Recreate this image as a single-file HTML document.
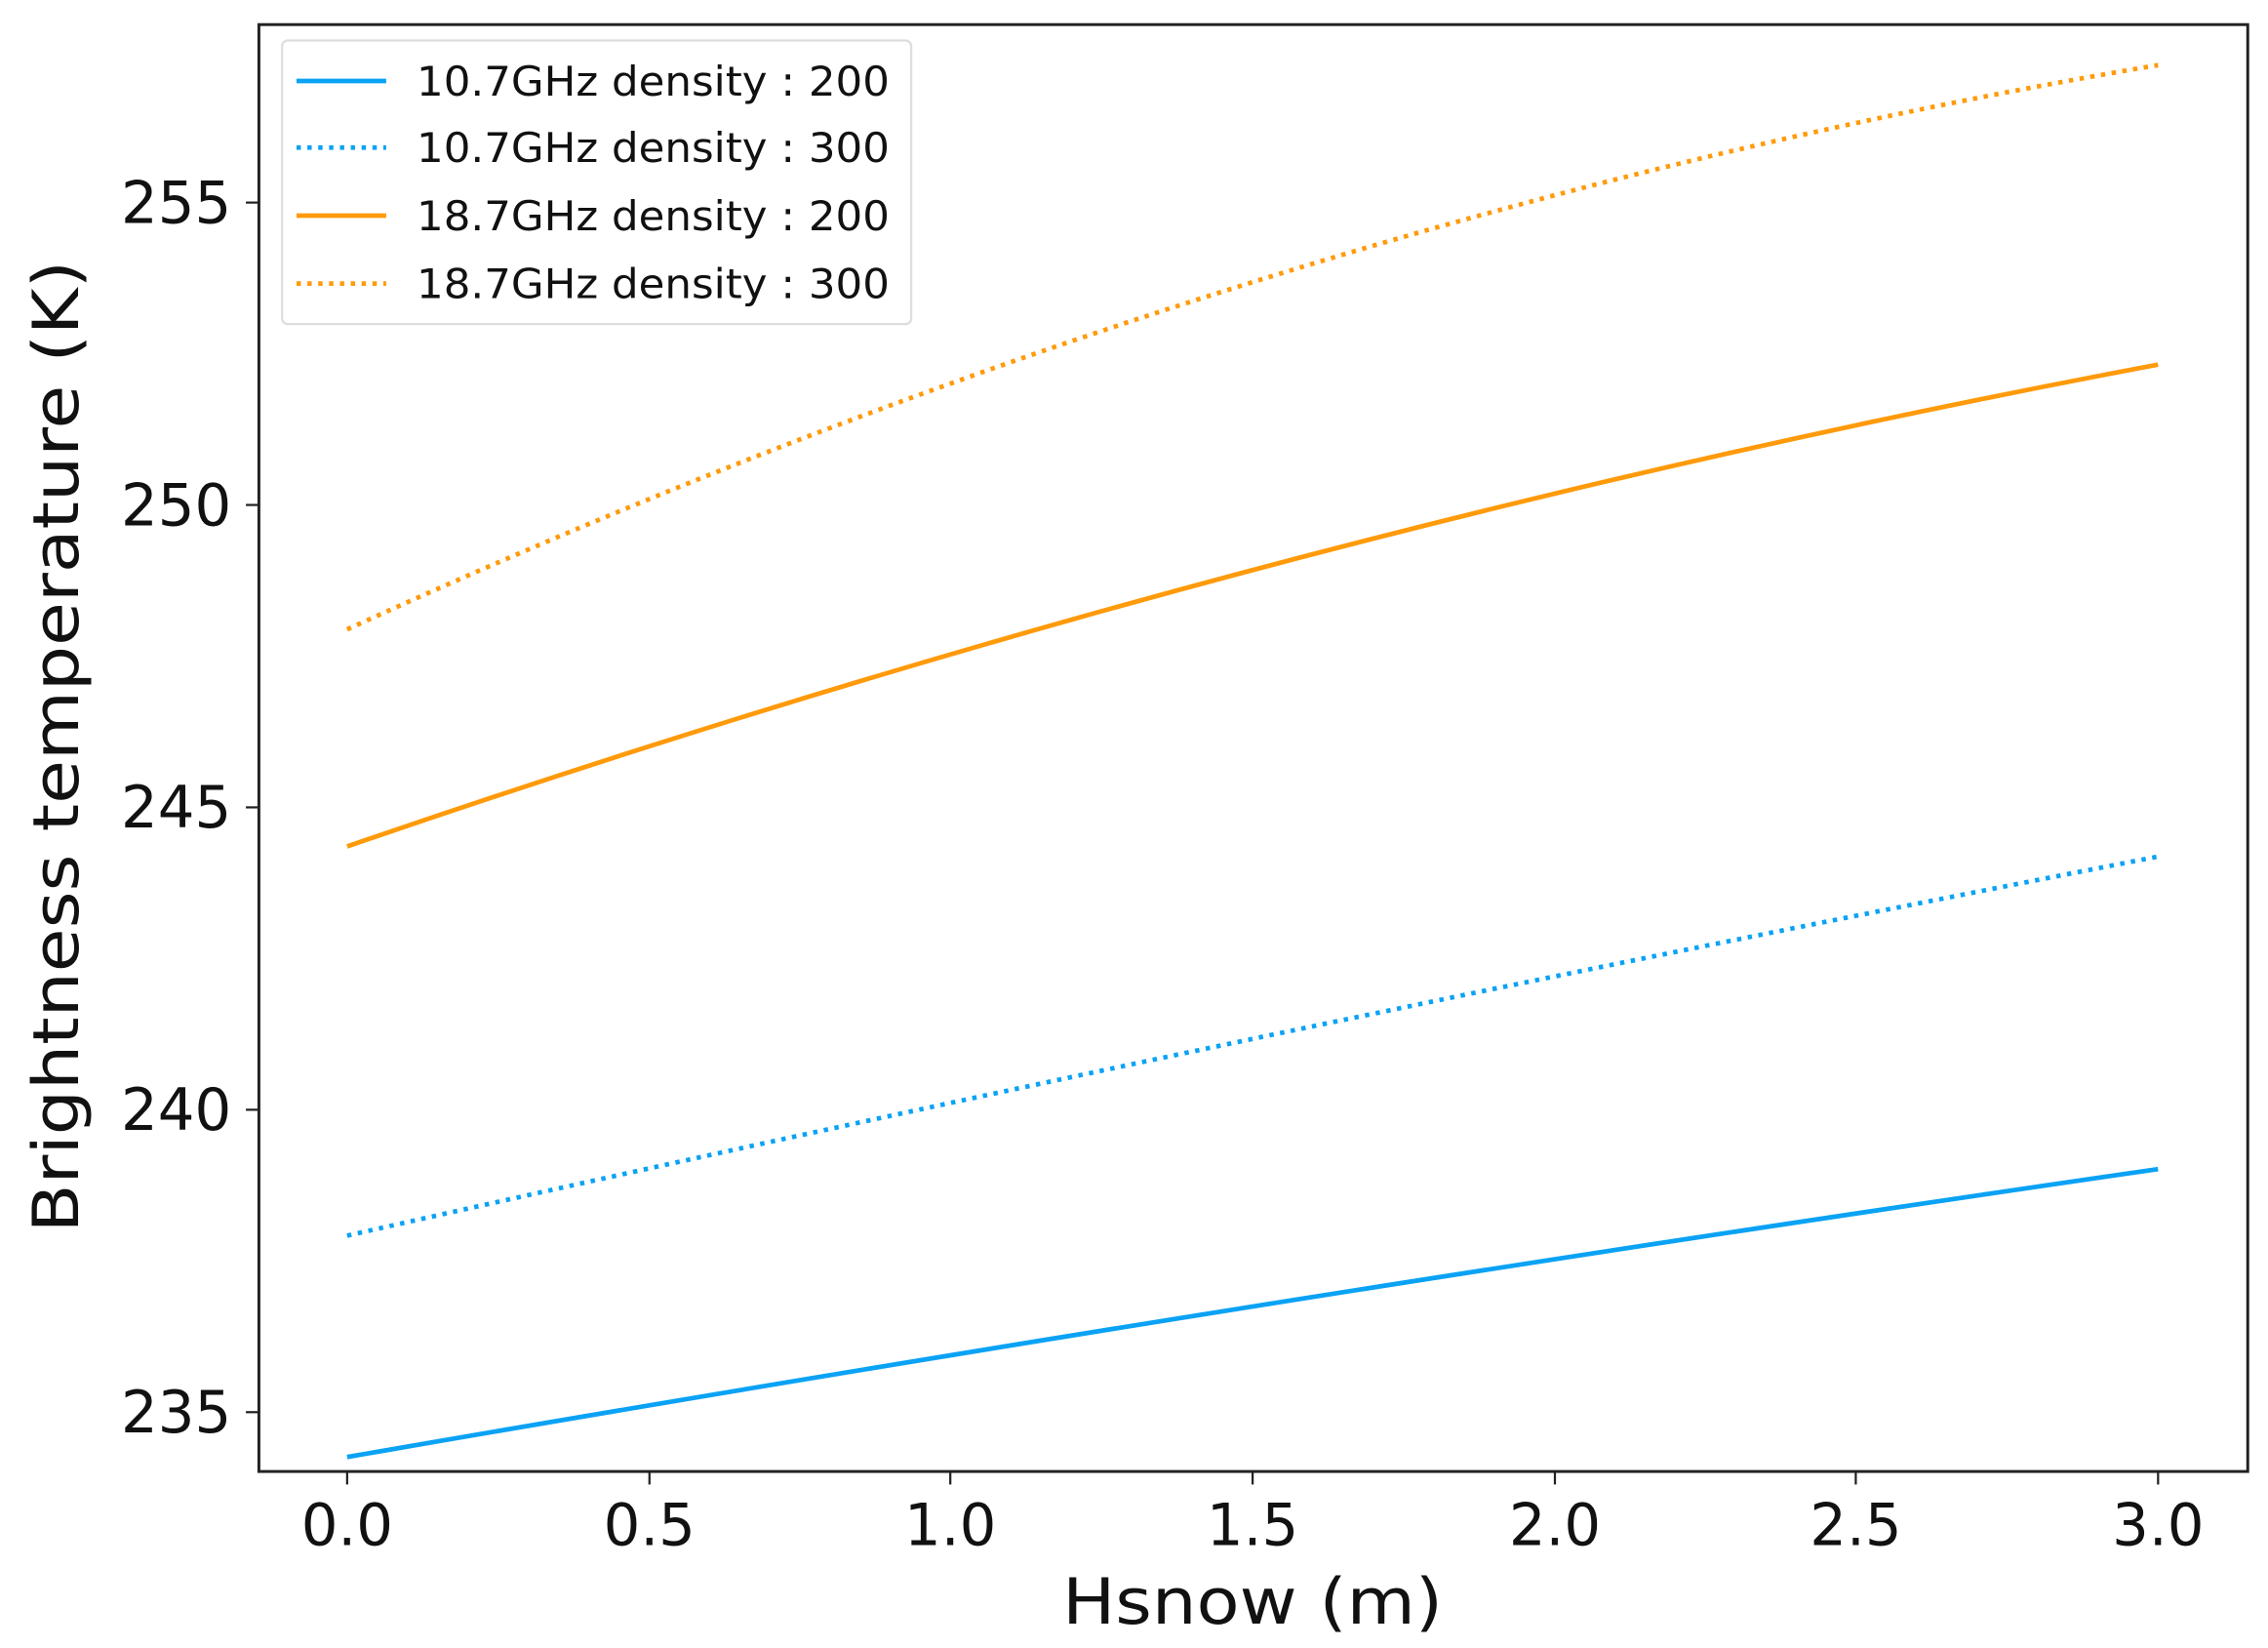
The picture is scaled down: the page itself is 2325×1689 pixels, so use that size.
<!DOCTYPE html>
<html><head><meta charset="utf-8"><style>html,body{margin:0;padding:0;background:#fff;}svg{display:block;}</style></head>
<body>
<svg width="2325" height="1689" viewBox="0 0 1568 1139" preserveAspectRatio="none" xmlns="http://www.w3.org/2000/svg" font-family="'DejaVu Sans','Liberation Sans',sans-serif">
<rect width="1568" height="1139" fill="#fff"/>
<g fill="none" stroke-width="3.2">
<path d="M240,1007 Q866,898.5 1492,808" stroke="#0aa2f5"/>
<path d="M240,854 Q866,713 1492,592" stroke="#0aa2f5" stroke-dasharray="3,4.5"/>
<path d="M240,585 Q866,369.5 1492,252" stroke="#ff9a0a"/>
<path d="M240,435 Q866,150 1492,45" stroke="#ff9a0a" stroke-dasharray="3,4.5"/>
</g>
<rect x="179" y="17" width="1375" height="1000" fill="none" stroke="#222" stroke-width="2"/>
<g stroke="#222" stroke-width="1.5">
<line x1="240" y1="1017" x2="240" y2="1026"/><line x1="449" y1="1017" x2="449" y2="1026"/><line x1="657" y1="1017" x2="657" y2="1026"/><line x1="866" y1="1017" x2="866" y2="1026"/><line x1="1075" y1="1017" x2="1075" y2="1026"/><line x1="1283" y1="1017" x2="1283" y2="1026"/><line x1="1492" y1="1017" x2="1492" y2="1026"/>
<line x1="170" y1="140" x2="179" y2="140"/><line x1="170" y1="349" x2="179" y2="349"/><line x1="170" y1="558" x2="179" y2="558"/><line x1="170" y1="767" x2="179" y2="767"/><line x1="170" y1="976" x2="179" y2="976"/>
</g>
<g font-size="40" fill="#111" text-anchor="middle">
<text x="240" y="1068">0.0</text><text x="449" y="1068">0.5</text><text x="657" y="1068">1.0</text><text x="866" y="1068">1.5</text><text x="1075" y="1068">2.0</text><text x="1283" y="1068">2.5</text><text x="1492" y="1068">3.0</text>
</g>
<g font-size="40" fill="#111" text-anchor="end">
<text x="160" y="154">255</text><text x="160" y="363">250</text><text x="160" y="572">245</text><text x="160" y="781">240</text><text x="160" y="990">235</text>
</g>
<text x="866" y="1122" font-size="44" fill="#111" text-anchor="middle" textLength="263" lengthAdjust="spacingAndGlyphs">Hsnow (m)</text>
<text transform="translate(54,516) rotate(-90)" font-size="44" fill="#111" text-anchor="middle" textLength="672" lengthAdjust="spacingAndGlyphs">Brightness temperature (K)</text>
<rect x="195" y="28" width="435" height="196" rx="4" fill="#fff" stroke="#ddd" stroke-width="1.5"/>
<g stroke-width="3.2">
<line x1="205" y1="56" x2="267" y2="56" stroke="#0aa2f5"/>
<line x1="205" y1="102" x2="267" y2="102" stroke="#0aa2f5" stroke-dasharray="3,4.5"/>
<line x1="205" y1="149" x2="267" y2="149" stroke="#ff9a0a"/>
<line x1="205" y1="196" x2="267" y2="196" stroke="#ff9a0a" stroke-dasharray="3,4.5"/>
</g>
<g font-size="28" fill="#111">
<text x="288" y="66" textLength="327" lengthAdjust="spacingAndGlyphs">10.7GHz density : 200</text>
<text x="288" y="112" textLength="327" lengthAdjust="spacingAndGlyphs">10.7GHz density : 300</text>
<text x="288" y="159" textLength="327" lengthAdjust="spacingAndGlyphs">18.7GHz density : 200</text>
<text x="288" y="206" textLength="327" lengthAdjust="spacingAndGlyphs">18.7GHz density : 300</text>
</g>
</svg>
</body></html>
